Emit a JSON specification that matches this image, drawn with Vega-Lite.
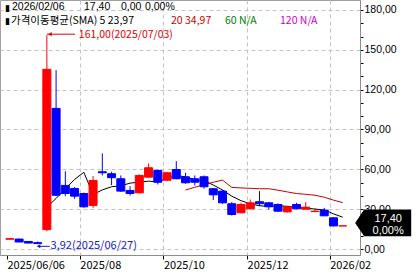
{
  "$schema": "https://vega.github.io/schema/vega-lite/v6.json",
  "width": 360,
  "height": 255,
  "padding": 0,
  "autosize": {"type": "pad"},
  "background": "#ffffff",
  "config": {
    "view": {"stroke": "#a0a0a0", "strokeWidth": 1},
    "text": {"font": "Noto Sans CJK KR"}
  },
  "resolve": {"axis": {"x": "independent", "y": "independent"}},
  "datasets": {
    "candles": [
      {"d": "2025-06-06", "o": 7.4, "h": 8.0, "l": 7.2, "c": 7.8},
      {"d": "2025-06-13", "o": 7.5, "h": 7.8, "l": 5.2, "c": 5.3},
      {"d": "2025-06-20", "o": 5.7, "h": 5.9, "l": 4.4, "c": 4.5},
      {"d": "2025-06-27", "o": 4.8, "h": 5.7, "l": 3.92, "c": 4.1},
      {"d": "2025-07-04", "o": 14.6, "h": 161.0, "l": 13.3, "c": 135.3},
      {"d": "2025-07-11", "o": 105.9, "h": 134.7, "l": 39.8, "c": 40.5},
      {"d": "2025-07-18", "o": 47.9, "h": 58.6, "l": 39.8, "c": 41.8},
      {"d": "2025-07-25", "o": 45.6, "h": 46.6, "l": 37.8, "c": 39.8},
      {"d": "2025-08-01", "o": 41.8, "h": 42.5, "l": 31.0, "c": 31.8},
      {"d": "2025-08-08", "o": 32.8, "h": 54.9, "l": 31.0, "c": 51.6},
      {"d": "2025-08-15", "o": 58.2, "h": 72.0, "l": 55.4, "c": 57.4},
      {"d": "2025-08-22", "o": 56.7, "h": 58.2, "l": 48.1, "c": 53.7},
      {"d": "2025-08-29", "o": 52.9, "h": 55.4, "l": 43.0, "c": 43.6},
      {"d": "2025-09-05", "o": 44.1, "h": 47.3, "l": 40.3, "c": 41.8},
      {"d": "2025-09-12", "o": 42.3, "h": 56.2, "l": 42.0, "c": 55.4},
      {"d": "2025-09-19", "o": 54.1, "h": 64.4, "l": 53.5, "c": 61.2},
      {"d": "2025-09-26", "o": 59.2, "h": 60.0, "l": 48.6, "c": 50.3},
      {"d": "2025-10-03", "o": 51.8, "h": 58.2, "l": 51.1, "c": 57.4},
      {"d": "2025-10-10", "o": 59.9, "h": 66.2, "l": 52.5, "c": 52.9},
      {"d": "2025-10-17", "o": 54.4, "h": 57.4, "l": 49.1, "c": 49.9},
      {"d": "2025-10-24", "o": 52.9, "h": 55.4, "l": 47.9, "c": 50.3},
      {"d": "2025-10-31", "o": 54.4, "h": 55.4, "l": 45.4, "c": 46.9},
      {"d": "2025-11-07", "o": 45.4, "h": 46.0, "l": 36.8, "c": 40.8},
      {"d": "2025-11-14", "o": 43.6, "h": 44.5, "l": 34.0, "c": 34.8},
      {"d": "2025-11-21", "o": 34.1, "h": 35.3, "l": 25.2, "c": 26.0},
      {"d": "2025-11-28", "o": 27.3, "h": 34.8, "l": 27.0, "c": 33.5},
      {"d": "2025-12-05", "o": 30.3, "h": 37.3, "l": 29.8, "c": 34.8},
      {"d": "2025-12-12", "o": 35.6, "h": 43.6, "l": 32.3, "c": 34.1},
      {"d": "2025-12-19", "o": 34.8, "h": 35.3, "l": 29.8, "c": 31.8},
      {"d": "2025-12-26", "o": 33.5, "h": 34.5, "l": 28.0, "c": 28.5},
      {"d": "2026-01-02", "o": 28.0, "h": 32.3, "l": 27.5, "c": 31.8},
      {"d": "2026-01-09", "o": 33.5, "h": 34.8, "l": 30.0, "c": 30.3},
      {"d": "2026-01-16", "o": 30.0, "h": 35.3, "l": 29.8, "c": 31.5},
      {"d": "2026-01-23", "o": 28.2, "h": 30.5, "l": 27.8, "c": 28.5},
      {"d": "2026-01-30", "o": 29.3, "h": 31.0, "l": 24.8, "c": 25.0},
      {"d": "2026-02-06", "o": 23.5, "h": 24.0, "l": 17.0, "c": 17.4},
      {"d": "2026-02-13", "o": 17.4, "h": 17.4, "l": 17.4, "c": 17.4}
    ],
    "ma": [
      {"s": "5", "d": "2025-07-04", "v": 31.5},
      {"s": "5", "d": "2025-07-11", "v": 38.1},
      {"s": "5", "d": "2025-07-18", "v": 45.4},
      {"s": "5", "d": "2025-07-25", "v": 52.4},
      {"s": "5", "d": "2025-08-01", "v": 57.8},
      {"s": "5", "d": "2025-08-08", "v": 41.1},
      {"s": "5", "d": "2025-08-15", "v": 44.5},
      {"s": "5", "d": "2025-08-22", "v": 46.9},
      {"s": "5", "d": "2025-08-29", "v": 47.6},
      {"s": "5", "d": "2025-09-05", "v": 49.6},
      {"s": "5", "d": "2025-09-12", "v": 50.4},
      {"s": "5", "d": "2025-09-19", "v": 51.1},
      {"s": "5", "d": "2025-09-26", "v": 50.5},
      {"s": "5", "d": "2025-10-03", "v": 53.2},
      {"s": "5", "d": "2025-10-10", "v": 55.4},
      {"s": "5", "d": "2025-10-17", "v": 54.3},
      {"s": "5", "d": "2025-10-24", "v": 52.2},
      {"s": "5", "d": "2025-10-31", "v": 51.5},
      {"s": "5", "d": "2025-11-07", "v": 48.2},
      {"s": "5", "d": "2025-11-14", "v": 44.5},
      {"s": "5", "d": "2025-11-21", "v": 39.8},
      {"s": "5", "d": "2025-11-28", "v": 36.4},
      {"s": "5", "d": "2025-12-05", "v": 34.0},
      {"s": "5", "d": "2025-12-12", "v": 32.6},
      {"s": "5", "d": "2025-12-19", "v": 32.0},
      {"s": "5", "d": "2025-12-26", "v": 32.5},
      {"s": "5", "d": "2026-01-02", "v": 32.2},
      {"s": "5", "d": "2026-01-09", "v": 31.3},
      {"s": "5", "d": "2026-01-16", "v": 30.8},
      {"s": "5", "d": "2026-01-23", "v": 30.1},
      {"s": "5", "d": "2026-01-30", "v": 29.4},
      {"s": "5", "d": "2026-02-06", "v": 26.5},
      {"s": "5", "d": "2026-02-13", "v": 23.97},
      {"s": "20", "d": "2025-10-17", "v": 44.4},
      {"s": "20", "d": "2025-10-24", "v": 46.5},
      {"s": "20", "d": "2025-10-31", "v": 48.5},
      {"s": "20", "d": "2025-11-07", "v": 50.3},
      {"s": "20", "d": "2025-11-14", "v": 51.9},
      {"s": "20", "d": "2025-11-21", "v": 46.4},
      {"s": "20", "d": "2025-11-28", "v": 46.0},
      {"s": "20", "d": "2025-12-05", "v": 45.7},
      {"s": "20", "d": "2025-12-12", "v": 45.4},
      {"s": "20", "d": "2025-12-19", "v": 45.4},
      {"s": "20", "d": "2025-12-26", "v": 44.3},
      {"s": "20", "d": "2026-01-02", "v": 43.0},
      {"s": "20", "d": "2026-01-09", "v": 41.8},
      {"s": "20", "d": "2026-01-16", "v": 41.2},
      {"s": "20", "d": "2026-01-23", "v": 40.5},
      {"s": "20", "d": "2026-01-30", "v": 39.0},
      {"s": "20", "d": "2026-02-06", "v": 36.8},
      {"s": "20", "d": "2026-02-13", "v": 34.97}
    ]
  },
  "layer": [
    {
      "data": {"name": "ma"},
      "mark": {"type": "line", "strokeWidth": 1},
      "encoding": {
        "x": {
          "field": "d", "type": "temporal",
          "scale": {"type": "utc", "domain": [{"year": 2025, "month": 6, "date": 2, "hours": 7, "minutes": 40, "utc": true}, {"year": 2026, "month": 2, "date": 22, "hours": 7, "minutes": 10, "utc": true}]},
          "axis": {
            "title": null,
            "values": [
              {"year": 2025, "month": 6, "date": 3, "hours": 19, "utc": true},
              {"year": 2025, "month": 7, "date": 29, "utc": true},
              {"year": 2025, "month": 9, "date": 30, "hours": 7, "utc": true},
              {"year": 2025, "month": 12, "date": 2, "hours": 14, "utc": true},
              {"year": 2026, "month": 2, "date": 3, "hours": 4, "utc": true}
            ],
            "labelExpr": "time(datum.value) < utc(2025,5,10) ? '2025/06/06' : utcFormat(time(datum.value) + 259200000, '%Y/%m')",
            "labelAlign": "left",
            "labelFlush": false,
            "labelOverlap": false,
            "labelPadding": 0,
            "labelFont": "Noto Sans CJK KR",
            "labelFontSize": 11,
            "labelColor": "#000000",
            "tickSize": 4,
            "tickColor": "#000000",
            "domainColor": "#8c8c8c",
            "grid": true,
            "gridColor": "#c4c4c4",
            "gridDash": [4, 3],
            "gridOpacity": {"condition": {"test": "time(datum.value) < utc(2025,5,10)", "value": 0}, "value": 1}
          }
        },
        "y": {
          "field": "v", "type": "quantitative",
          "scale": {"domain": [-4.5, 187.5], "nice": false, "zero": false},
          "axis": {
            "orient": "right",
            "title": null,
            "values": [0, 10, 20, 30, 40, 50, 60, 70, 80, 90, 100, 110, 120, 130, 140, 150, 160, 170, 180],
            "labelExpr": "indexof([0,30,60,90,120,150,180], datum.value) >= 0 ? replace(format(datum.value, '.2f'), '.', ',') : ''",
            "gridOpacity": {"condition": {"test": "indexof([0,30,60,90,120,150,180], datum.value) >= 0", "value": 1}, "value": 0},
            "grid": true,
            "gridColor": "#c4c4c4",
            "gridDash": [4, 3],
            "tickSize": 3,
            "tickColor": "#000000",
            "domainColor": "#8c8c8c",
            "labelPadding": 1,
            "labelFont": "Liberation Sans",
            "labelFontSize": 10.5,
            "labelColor": "#000000",
            "labelOverlap": false,
            "labelBound": false
          }
        },
        "color": {"field": "s", "type": "nominal", "scale": {"domain": ["5", "20", "60", "120"], "range": ["#000000", "#c80000", "#008000", "#cc00cc"]}, "legend": null}
      }
    },
    {
      "data": {"name": "candles"},
      "mark": {"type": "rule", "strokeWidth": 1},
      "encoding": {
        "x": {"field": "d", "type": "temporal", "axis": null},
        "y": {"field": "l", "type": "quantitative", "axis": null},
        "y2": {"field": "h"},
        "stroke": {"condition": {"test": "datum.c >= datum.o", "value": "#ff0000"}, "value": "#0000ff"}
      }
    },
    {
      "data": {"name": "candles"},
      "mark": {"type": "bar", "size": 8, "strokeWidth": 1},
      "encoding": {
        "x": {"field": "d", "type": "temporal", "axis": null},
        "y": {"field": "o", "type": "quantitative", "axis": null},
        "y2": {"field": "c"},
        "fill": {"condition": {"test": "datum.c >= datum.o", "value": "#ff0000"}, "value": "#0000ff"},
        "stroke": {"condition": {"test": "datum.c >= datum.o", "value": "#ff0000"}, "value": "#0000ff"}
      }
    },
    {
      "data": {"values": [{"label": "161,00(2025/07/03)"}]},
      "encoding": {
        "x": {"datum": {"year": 2025, "month": 7, "date": 4, "utc": true}, "type": "temporal", "axis": null},
        "y": {"datum": 161, "type": "quantitative", "axis": null}
      },
      "layer": [
        {
          "mark": {"type": "rule", "stroke": "#e00000", "strokeWidth": 1, "yOffset": -1},
          "encoding": {
            "x2": {"datum": {"year": 2025, "month": 7, "date": 25, "hours": 8, "utc": true}}
          }
        },
        {
          "mark": {"type": "point", "shape": "triangle-left", "filled": true, "color": "#e00000", "size": 18, "xOffset": 3, "yOffset": -1, "opacity": 1}
        },
        {
          "mark": {"type": "text", "align": "left", "baseline": "middle", "dx": 32, "dy": -0.5, "fontSize": 10.5, "color": "#e00000"},
          "encoding": {"text": {"field": "label"}}
        }
      ]
    },
    {
      "data": {"values": [{"label": "3,92(2025/06/27)"}]},
      "encoding": {
        "x": {"datum": {"year": 2025, "month": 6, "date": 27, "utc": true}, "type": "temporal", "axis": null},
        "y": {"datum": 3.92, "type": "quantitative", "axis": null}
      },
      "layer": [
        {
          "mark": {"type": "rule", "stroke": "#1818c8", "strokeWidth": 1, "yOffset": 2.5},
          "encoding": {
            "x2": {"datum": {"year": 2025, "month": 7, "date": 6, "hours": 5, "utc": true}}
          }
        },
        {
          "mark": {"type": "point", "shape": "triangle-left", "filled": true, "color": "#1818c8", "size": 16, "xOffset": 1, "yOffset": 2.5, "opacity": 1}
        },
        {
          "mark": {"type": "text", "align": "left", "baseline": "middle", "dx": 13, "dy": 2.5, "fontSize": 11, "color": "#1818c8"},
          "encoding": {"text": {"field": "label"}}
        }
      ]
    },
    {
      "data": {"values": [{"price": "17,40", "chg": "0,00%"}]},
      "encoding": {
        "x": {"datum": {"year": 2026, "month": 3, "date": 15, "hours": 15, "utc": true}, "type": "temporal", "axis": null},
        "y": {"datum": 17.4, "type": "quantitative", "axis": null}
      },
      "layer": [
        {
          "mark": {"type": "point", "shape": "M-1,0L-0.68,-0.48L1,-0.48L1,0.48L-0.68,0.48Z", "filled": true, "color": "#000000", "size": 3136, "yOffset": -3, "opacity": 1, "strokeWidth": 0}
        },
        {
          "mark": {"type": "text", "align": "center", "baseline": "middle", "dx": 5, "dy": -7, "fontSize": 11, "font": "Liberation Sans", "color": "#ffffff"},
          "encoding": {"text": {"field": "price"}}
        },
        {
          "mark": {"type": "text", "align": "center", "baseline": "middle", "dx": 5, "dy": 5.5, "fontSize": 11, "font": "Liberation Sans", "color": "#ffffff"},
          "encoding": {"text": {"field": "chg"}}
        }
      ]
    },
    {
      "data": {"values": [{"m": "▮", "a": "2026/02/06", "b": "17,40", "c": "0,00", "e": "0,00%", "l2": "가격이동평균(SMA) 5 23,97", "l3": "20 34,97", "l4": "60 N/A", "l5": "120 N/A"}]},
      "encoding": {
        "x": {"datum": {"year": 2025, "month": 6, "date": 2, "hours": 7, "minutes": 40, "utc": true}, "type": "temporal", "axis": null},
        "y": {"datum": 187.5, "type": "quantitative", "axis": null}
      },
      "layer": [
        {"mark": {"type": "text", "align": "left", "baseline": "alphabetic", "dx": 0, "dy": 10.5, "fontSize": 9, "font": "DejaVu Sans", "color": "#000000"}, "encoding": {"text": {"field": "m"}}},
        {"mark": {"type": "text", "align": "left", "baseline": "alphabetic", "dx": 0, "dy": 23.5, "fontSize": 9, "font": "DejaVu Sans", "color": "#000000"}, "encoding": {"text": {"field": "m"}}},
        {"mark": {"type": "text", "align": "left", "baseline": "alphabetic", "dx": 7, "dy": 9.7, "fontSize": 10.5, "font": "Liberation Sans", "color": "#000000"}, "encoding": {"text": {"field": "a"}}},
        {"mark": {"type": "text", "align": "left", "baseline": "alphabetic", "dx": 79, "dy": 9.7, "fontSize": 10.5, "font": "Liberation Sans", "color": "#000000"}, "encoding": {"text": {"field": "b"}}},
        {"mark": {"type": "text", "align": "left", "baseline": "alphabetic", "dx": 116, "dy": 9.7, "fontSize": 10.5, "font": "Liberation Sans", "color": "#000000"}, "encoding": {"text": {"field": "c"}}},
        {"mark": {"type": "text", "align": "left", "baseline": "alphabetic", "dx": 140, "dy": 9.7, "fontSize": 10.5, "font": "Liberation Sans", "color": "#000000"}, "encoding": {"text": {"field": "e"}}},
        {"mark": {"type": "text", "align": "left", "baseline": "alphabetic", "dx": 6, "dy": 24, "fontSize": 10.5, "color": "#000000"}, "encoding": {"text": {"field": "l2"}}},
        {"mark": {"type": "text", "align": "left", "baseline": "alphabetic", "dx": 166, "dy": 24, "fontSize": 10.5, "color": "#c80000"}, "encoding": {"text": {"field": "l3"}}},
        {"mark": {"type": "text", "align": "left", "baseline": "alphabetic", "dx": 220, "dy": 24, "fontSize": 10.5, "color": "#008000"}, "encoding": {"text": {"field": "l4"}}},
        {"mark": {"type": "text", "align": "left", "baseline": "alphabetic", "dx": 275, "dy": 24, "fontSize": 10.5, "color": "#cc00cc"}, "encoding": {"text": {"field": "l5"}}}
      ]
    }
  ]
}
